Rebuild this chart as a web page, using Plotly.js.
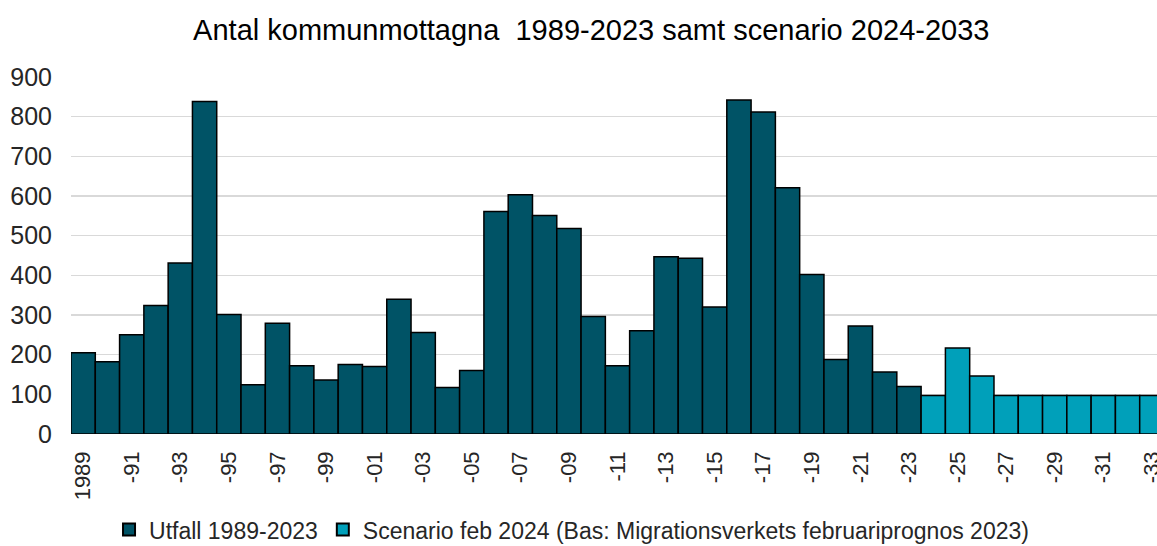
<!DOCTYPE html>
<html>
<head>
<meta charset="utf-8">
<script src="https://cdn.plot.ly/plotly-3.0.1.min.js"></script>
<style>html,body{margin:0;padding:0;background:#fff;overflow:hidden;width:1157px;height:546px;}#chart{width:1164px;height:546px;}</style>
</head>
<body>
<div id="chart"></div>
<script>
const utfallYears = [1989,1990,1991,1992,1993,1994,1995,1996,1997,1998,1999,2000,2001,2002,2003,2004,2005,2006,2007,2008,2009,2010,2011,2012,2013,2014,2015,2016,2017,2018,2019,2020,2021,2022,2023];
const utfallValues = [205,182,250,324,431,838,301,124,279,172,136,175,170,340,256,117,160,561,603,551,518,296,172,260,447,443,320,842,812,621,402,188,272,156,120];
const scenarioYears = [2024,2025,2026,2027,2028,2029,2030,2031,2032,2033];
const scenarioValues = [97,217,146,97,97,97,97,97,97,97];
const tickYears = [1989,1991,1993,1995,1997,1999,2001,2003,2005,2007,2009,2011,2013,2015,2017,2019,2021,2023,2025,2027,2029,2031,2033];
const tickLabels = ["1989","-91","-93","-95","-97","-99","-01","-03","-05","-07","-09","-11","-13","-15","-17","-19","-21","-23","-25","-27","-29","-31","-33"];
const yTicks = [0,100,200,300,400,500,600,700,800,900];

const font = "Liberation Sans, Arial, sans-serif";
const traces = [
  {type:'bar', name:'Utfall 1989-2023', x:utfallYears, y:utfallValues, width:1,
   marker:{color:'#005366', line:{color:'#000', width:1.5}}},
  {type:'bar', name:'Scenario feb 2024 (Bas: Migrationsverkets februariprognos 2023)', x:scenarioYears, y:scenarioValues, width:1,
   marker:{color:'#00A0BA', line:{color:'#000', width:1.5}}}
];
const layout = {
  width:1164, height:546,
  margin:{l:71, r:0, t:77, b:112},
  paper_bgcolor:'#fff', plot_bgcolor:'#fff',
  font:{family:font, color:'#262626'},
  title:{text:'Antal kommunmottagna  1989-2023 samt scenario 2024-2033', x:0.508, xref:'container', y:0.945, yref:'container', yanchor:'middle', font:{size:29, color:'#000'}},
  barmode:'overlay', bargap:0,
  showlegend:true,
  legend:{orientation:'h', xref:'container', x:0.491, xanchor:'center', yref:'container', y:0.03, yanchor:'middle', font:{size:23, color:'#262626'}, itemsizing:'constant', traceorder:'normal', tracegroupgap:0},
  xaxis:{range:[1988.5,2033.5], tickmode:'array', tickvals:tickYears, ticktext:tickLabels, tickangle:-90, tickfont:{size:22, color:'#262626'}, showgrid:false, zeroline:false, showline:false, ticks:'', ticklabelstandoff:12, ticklabeloverflow:'allow', automargin:false},
  yaxis:{range:[0,900], tickmode:'array', tickvals:yTicks, tickfont:{size:25, color:'#262626'}, showgrid:true, gridcolor:'#d9d9d9', gridwidth:1.5, zeroline:false, showline:false, ticks:'', ticklabelstandoff:18, automargin:false}
};
Plotly.newPlot('chart', traces, layout, {displayModeBar:false, staticPlot:true});
</script>
</body>
</html>
